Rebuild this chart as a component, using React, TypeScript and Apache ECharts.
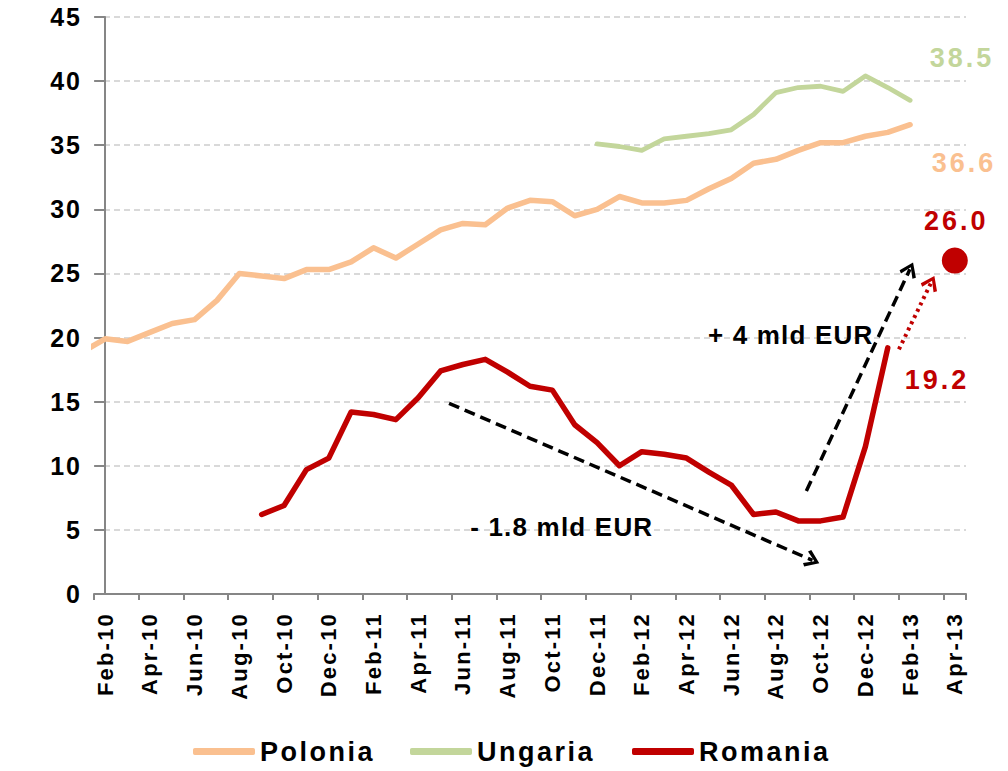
import React, { useEffect, useRef } from "react";
import * as echarts from "echarts";

// ---------- data ----------
const months = [
  "Feb-10", "Mar-10", "Apr-10", "May-10", "Jun-10", "Jul-10", "Aug-10", "Sep-10", "Oct-10", "Nov-10", "Dec-10",
  "Jan-11", "Feb-11", "Mar-11", "Apr-11", "May-11", "Jun-11", "Jul-11", "Aug-11", "Sep-11", "Oct-11", "Nov-11", "Dec-11",
  "Jan-12", "Feb-12", "Mar-12", "Apr-12", "May-12", "Jun-12", "Jul-12", "Aug-12", "Sep-12", "Oct-12", "Nov-12", "Dec-12",
  "Jan-13", "Feb-13", "Mar-13", "Apr-13",
];

// Polonia: Jan-10 value (just left of the axis), then Feb-10 .. Feb-13
const poloniaJan10 = 18.9;
const polonia = [
  19.9, 19.7, 20.4, 21.1, 21.4, 22.9, 25.0, 24.8, 24.6, 25.3, 25.3,
  25.9, 27.0, 26.2, 27.3, 28.4, 28.9, 28.8, 30.1, 30.7, 30.6, 29.5, 30.0,
  31.0, 30.5, 30.5, 30.7, 31.6, 32.4, 33.6, 33.9, 34.6, 35.2, 35.2, 35.7,
  36.0, 36.6,
];

// Ungaria: Dec-11 .. Feb-13
const ungariaStart = "Dec-11";
const ungaria = [35.1, 34.9, 34.6, 35.5, 35.7, 35.9, 36.2, 37.4, 39.1, 39.5, 39.6, 39.2, 40.4, 39.5, 38.5];

// Romania: Sep-10 .. Jan-13
const romaniaStart = "Sep-10";
const romania = [
  6.2, 6.9, 9.7, 10.6, 14.2, 14.0, 13.6, 15.3, 17.4, 17.9, 18.3, 17.3, 16.2, 15.9,
  13.2, 11.8, 10.0, 11.1, 10.9, 10.6, 9.5, 8.5, 6.2, 6.4, 5.7, 5.7, 6.0, 11.5, 19.2,
];

// Romania target point
const romaniaTargetMonth = "Apr-13";
const romaniaTarget = 26.0;

const yTicks = { min: 0, max: 45, interval: 5 };
const legendNames = ["Polonia", "Ungaria", "Romania"];

// annotations (x in month index units, y in value units)
const arrowDown = [[15.38, 14.87], [31.63, 2.63]];
const arrowUp = [[31.36, 8.03], [35.99, 25.32]];
const arrowRed = [[35.5, 19.08], [36.94, 24.28]];
const noteUp = { text: "+ 4 mld EUR", at: [30.66, 20.2] };
const noteDown = { text: "- 1.8 mld EUR", at: [20.42, 5.23] };

// ---------- styling ----------
const FONT = "'Liberation Sans', Arial, Helvetica, sans-serif";
const C_POL = "#FAC090";
const C_UNG = "#C3D69B";
const C_ROM = "#C00000";
const AXIS = "#868686";

const pad = (start: string, vals: number[]) => {
  const i0 = months.indexOf(start);
  const out: (number | null)[] = [];
  for (let i = 0; i < i0; i++) out.push(null);
  return out.concat(vals);
};

const fmt1 = (p: any) => {
  const v = Array.isArray(p.value) ? p.value[1] : p.value;
  return Number(v).toFixed(1);
};

const chevron = "path://M10,0 L20,13 L17,15.5 L10,5.5 L3,15.5 L0,13 Z";

const spacingFor = (t: string) => {
  if (legendNames.includes(t)) return 2.5;
  if (t.includes("mld")) return 1.2;
  if (/^\d+\.\d$/.test(t)) return 3;
  if (/^[A-Z][a-z]{2}-\d\d$/.test(t)) return 2.2;
  if (/^\d+$/.test(t)) return 2;
  return 0;
};

const applySpacing = (root: HTMLElement) => {
  root.querySelectorAll("text").forEach((el) => {
    const s = spacingFor((el.textContent || "").trim());
    if (s) el.setAttribute("letter-spacing", String(s));
  });
};

const buildOption = () => {
  const legendLefts = [193, 410, 632];
  return {
    animation: false,
    backgroundColor: "#ffffff",
    textStyle: { fontFamily: FONT },
    grid: { left: 94, right: 42, top: 17, bottom: 177, containLabel: false },
    legend: legendNames.map((n, i) => ({
      data: [n],
      left: legendLefts[i],
      top: 738,
      padding: 0,
      icon: "roundRect",
      itemWidth: 62,
      itemHeight: 7,
      selectedMode: false,
      textStyle: { fontSize: 27, fontWeight: "bold", color: "#000", fontFamily: FONT },
    })),
    xAxis: [
      {
        type: "category",
        data: months,
        boundaryGap: true,
        axisLine: { show: true, lineStyle: { color: AXIS, width: 2 } },
        axisTick: { show: true, interval: 1, length: 6, lineStyle: { color: AXIS, width: 2 } },
        axisLabel: {
          interval: 1,
          rotate: 90,
          margin: 18,
          fontSize: 22,
          fontWeight: "bold",
          color: "#000",
          fontFamily: FONT,
        },
        splitLine: { show: false },
      },
      {
        type: "value",
        min: -0.5,
        max: 38.5,
        show: false,
        splitLine: { show: false },
      },
    ],
    yAxis: {
      type: "value",
      min: yTicks.min,
      max: yTicks.max,
      interval: yTicks.interval,
      axisLine: { show: true, lineStyle: { color: AXIS, width: 2 } },
      axisTick: { show: true, length: 11, lineStyle: { color: AXIS, width: 2 } },
      axisLabel: { fontSize: 25, fontWeight: "bold", color: "#000", margin: 12, fontFamily: FONT },
      splitLine: { show: true, lineStyle: { color: "#D9D9D9", width: 2, type: [6, 4] } },
    },
    series: [
      {
        name: "Polonia",
        type: "line",
        xAxisIndex: 1,
        data: [[-1, poloniaJan10], ...polonia.map((v, i) => [i, v])],
        showSymbol: false,
        symbol: "none",
        clip: true,
        color: C_POL,
        lineStyle: { color: C_POL, width: 5.5, join: "round", cap: "round" },
        z: 2,
        endLabel: {
          show: true,
          formatter: fmt1,
          distance: 0,
          offset: [21.6, 38.7],
          color: C_POL,
          fontSize: 27,
          fontWeight: "bold",
          fontFamily: FONT,
        },
      },
      {
        name: "Ungaria",
        type: "line",
        data: pad(ungariaStart, ungaria),
        showSymbol: false,
        symbol: "none",
        color: C_UNG,
        lineStyle: { color: C_UNG, width: 4.8, join: "round", cap: "round" },
        z: 3,
        endLabel: {
          show: true,
          formatter: fmt1,
          distance: 0,
          offset: [19.7, -42.3],
          color: C_UNG,
          fontSize: 27,
          fontWeight: "bold",
          fontFamily: FONT,
        },
      },
      {
        name: "Romania",
        type: "line",
        data: pad(romaniaStart, romania),
        showSymbol: false,
        symbol: "none",
        color: C_ROM,
        lineStyle: { color: C_ROM, width: 5.5, join: "round", cap: "round" },
        z: 4,
        endLabel: {
          show: true,
          formatter: fmt1,
          distance: 0,
          offset: [17, 32.2],
          color: C_ROM,
          fontSize: 27,
          fontWeight: "bold",
          fontFamily: FONT,
        },
      },
      {
        name: "Romania target",
        type: "scatter",
        data: [[romaniaTargetMonth, romaniaTarget]],
        symbol: "circle",
        symbolSize: 26,
        itemStyle: { color: C_ROM, opacity: 1 },
        z: 5,
        label: {
          show: true,
          position: "inside",
          offset: [1.5, -40],
          formatter: fmt1,
          color: C_ROM,
          fontSize: 27,
          fontWeight: "bold",
          fontFamily: FONT,
        },
      },
      {
        name: "annotations",
        type: "line",
        xAxisIndex: 1,
        data: [],
        silent: true,
        z: 6,
        markLine: {
          silent: true,
          animation: false,
          label: { show: false },
          emphasis: { disabled: true },
          data: [
            [
              { coord: arrowDown[0], symbol: "none", lineStyle: { color: "#000", width: 3.5, type: [11, 6] } },
              { coord: arrowDown[1], symbol: chevron, symbolSize: [18, 15] },
            ],
            [
              { coord: arrowUp[0], symbol: "none", lineStyle: { color: "#000", width: 3.5, type: [11, 6] } },
              { coord: arrowUp[1], symbol: chevron, symbolSize: [18, 15] },
            ],
            [
              { coord: arrowRed[0], symbol: "none", lineStyle: { color: C_ROM, width: 4, type: [3, 4] } },
              { coord: arrowRed[1], symbol: chevron, symbolSize: [18, 15] },
            ],
          ],
        },
        markPoint: {
          silent: true,
          animation: false,
          symbol: "rect",
          symbolSize: 1,
          itemStyle: { color: "rgba(0,0,0,0)" },
          label: {
            show: true,
            position: "inside",
            formatter: "{b}",
            color: "#000",
            fontSize: 26,
            fontWeight: "bold",
            fontFamily: FONT,
          },
          data: [
            { name: noteUp.text, coord: noteUp.at },
            { name: noteDown.text, coord: noteDown.at },
          ],
        },
      },
    ],
  };
};

export default function App() {
  const ref = useRef<HTMLDivElement>(null);
  useEffect(() => {
    const el = ref.current as HTMLDivElement;
    const chart = echarts.init(el, null, { renderer: "svg" });
    chart.setOption(buildOption() as any);
    const apply = () => applySpacing(el);
    chart.on("finished", apply);
    apply();
    const t = setTimeout(apply, 50);
    return () => {
      clearTimeout(t);
      chart.dispose();
    };
  }, []);
  return (
    <div
      ref={ref}
      style={{ position: "fixed", left: 0, top: 0, width: 1008, height: 771, background: "#fff" }}
    />
  );
}
